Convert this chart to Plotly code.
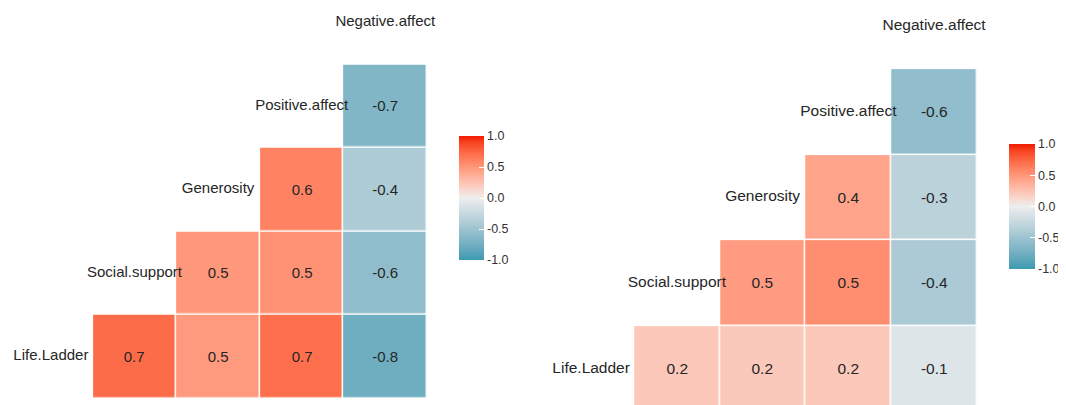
import numpy as np
import plotly.graph_objects as go

# ---------------- data ----------------
variables = ["Life.Ladder", "Social.support", "Generosity", "Positive.affect", "Negative.affect"]

# lower-triangle correlations, row variable -> values vs. the following variables
left_life = [0.72, 0.48, 0.70, -0.76]
left_social = [0.49, 0.52, -0.58]
left_generosity = [0.60, -0.40]
left_positive = [-0.66]

right_life = [0.22, 0.21, 0.22, -0.10]
right_social = [0.47, 0.54, -0.42]
right_generosity = [0.42, -0.32]
right_positive = [-0.57]

legend_ticks = [-1.0, -0.5, 0.0, 0.5, 1.0]
legend_labels = ["-1.0", "-0.5", "0.0", "0.5", "1.0"]

# ---------------- colour scale (ggcorr default, Lab interpolation) ----------------
LOW, MID, HIGH = "#3B9AB2", "#EEEEEE", "#F21A00"
M = np.array([[0.4124, 0.3576, 0.1805], [0.2126, 0.7152, 0.0722], [0.0193, 0.1192, 0.9505]])
Minv = np.linalg.inv(M)
WHITE = np.array([0.95047, 1.0, 1.08883])


def hex2lab(h):
    rgb = np.array([int(h[i:i + 2], 16) for i in (1, 3, 5)]) / 255.0
    lin = np.where(rgb <= 0.04045, rgb / 12.92, ((rgb + 0.055) / 1.055) ** 2.4)
    xyz = M @ lin / WHITE
    d = 6 / 29
    f = np.where(xyz > d ** 3, np.cbrt(xyz), xyz / (3 * d * d) + 4 / 29)
    return np.array([116 * f[1] - 16, 500 * (f[0] - f[1]), 200 * (f[1] - f[2])])


def lab2hex(lab):
    L, a, b = lab
    fy = (L + 16) / 116
    fx = fy + a / 500
    fz = fy - b / 200
    d = 6 / 29
    f = np.array([fx, fy, fz])
    xyz = np.where(f > d, f ** 3, 3 * d * d * (f - 4 / 29)) * WHITE
    lin = Minv @ xyz
    lin = np.clip(lin, 0, 1)
    rgb = np.where(lin <= 0.0031308, 12.92 * lin, 1.055 * lin ** (1 / 2.4) - 0.055)
    rgb = np.clip(np.round(rgb * 255), 0, 255).astype(int)
    return "#%02x%02x%02x" % tuple(rgb)


lo, mi, hi = hex2lab(LOW), hex2lab(MID), hex2lab(HIGH)
colorscale = []
n = 20
for k in range(n + 1):
    t = k / n
    v = 2 * t - 1
    if v <= 0:
        lab = lo + (mi - lo) * (v + 1)
    else:
        lab = mi + (hi - mi) * v
    colorscale.append([t, lab2hex(lab)])

FONT = "Liberation Sans, Arial, sans-serif"
TXT = "#262626"

# page body has an 8px margin; figure is sized so that it ends at the window edge
OFF = 8
W, H = 1066 - OFF, 405 - OFF


def px_x(p):
    return (p - OFF) / W


def px_y(p):
    return (H - (p - OFF)) / H


def build(rows):
    nv = len(variables)
    z = [[None] * nv for _ in range(nv)]
    txt = [[""] * nv for _ in range(nv)]
    for i, row in enumerate(rows):
        for k, val in enumerate(row):
            j = i + 1 + k
            z[i][j] = val
            txt[i][j] = "%.1f" % round(val, 1)
    return z, txt


fig = go.Figure()

panels = [
    dict(rows=[left_life, left_social, left_generosity, left_positive],
         xdom=[px_x(9.1), px_x(427.1)], yr=[-0.5808, 4.1737],
         cbx=px_x(459), cby=px_y(198), cbt=25, cbl=124, fs=15, xa="x", ya="y"),
    dict(rows=[right_life, right_social, right_generosity, right_positive],
         xdom=[px_x(548.25), px_x(977)], yr=[-0.4198, 4.2099],
         cbx=px_x(1009), cby=px_y(206.5), cbt=26, cbl=125, fs=15.5, xa="x2", ya="y2"),
]

for p in panels:
    z, txt = build(p["rows"])
    idx = list(range(len(variables)))
    fig.add_trace(go.Heatmap(
        z=z, x=idx, y=idx, text=txt, texttemplate="%{text}",
        textfont=dict(family=FONT, size=p["fs"], color=TXT),
        colorscale=colorscale, zmin=-1, zmax=1, xgap=1.5, ygap=1.5,
        hoverongaps=False, xaxis=p["xa"], yaxis=p["ya"],
        colorbar=dict(
            x=p["cbx"], xanchor="left", y=p["cby"], yanchor="middle",
            thickness=p["cbt"], thicknessmode="pixels", len=p["cbl"], lenmode="pixels",
            xpad=0, ypad=0, outlinewidth=0,
            tickvals=legend_ticks, ticktext=legend_labels,
            ticks="inside", ticklen=5, tickcolor="white", tickwidth=1.2,
            tickfont=dict(family=FONT, size=12.5, color="#333333"),
        ),
    ))
    fig.add_trace(go.Scatter(
        x=idx, y=idx, text=variables, mode="text", textposition="middle center",
        textfont=dict(family=FONT, size=p["fs"], color=TXT),
        cliponaxis=False, showlegend=False, hoverinfo="skip",
        xaxis=p["xa"], yaxis=p["ya"],
    ))

axis_style = dict(showgrid=False, zeroline=False, showticklabels=False, ticks="",
                  showline=False, fixedrange=True)
fig.update_layout(
    width=W, height=H,
    margin=dict(l=0, r=0, t=0, b=0, autoexpand=False),
    paper_bgcolor="white", plot_bgcolor="white",
    showlegend=False,
    xaxis=dict(domain=panels[0]["xdom"], range=[-0.5, 4.5], anchor="y", **axis_style),
    yaxis=dict(domain=[0, 1], range=panels[0]["yr"], anchor="x", **axis_style),
    xaxis2=dict(domain=panels[1]["xdom"], range=[-0.5, 4.5], anchor="y2", **axis_style),
    yaxis2=dict(domain=[0, 1], range=panels[1]["yr"], anchor="x2", **axis_style),
)

fig.write_html("out.html")
